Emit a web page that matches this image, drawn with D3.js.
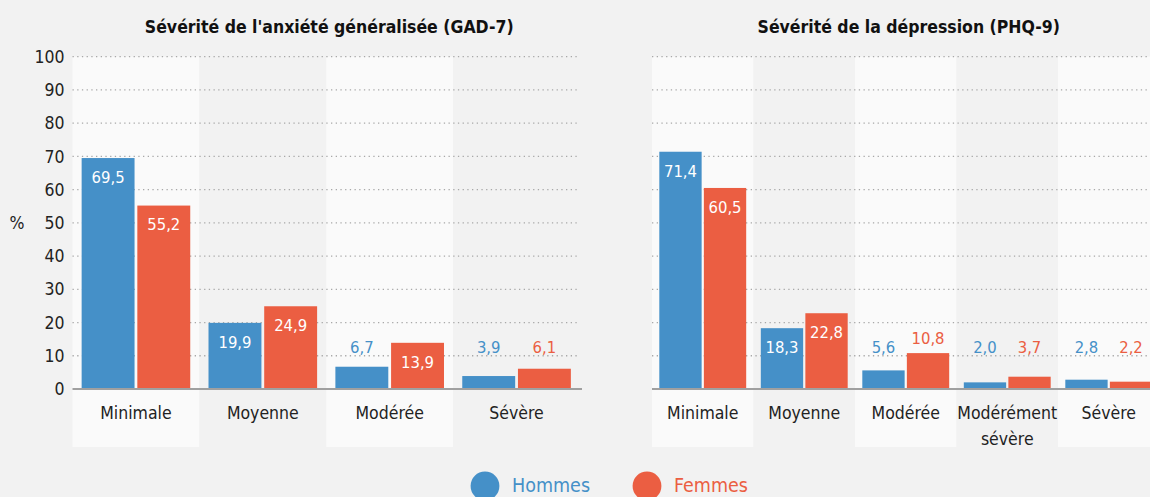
<!DOCTYPE html>
<html>
<head>
<meta charset="utf-8">
<script src="https://cdn.jsdelivr.net/npm/d3@7"></script>
<style>
  body { margin: 0; background: #f2f2f2; overflow: hidden; }
  svg text { font-family: "DejaVu Sans Condensed", "DejaVu Sans", sans-serif; }
</style>
</head>
<body>
<script>
// data
const categoriesGAD = ['Minimale', 'Moyenne', 'Modérée', 'Sévère'];
const hommesGAD = [69.5, 19.9, 6.7, 3.9];
const femmesGAD = [55.2, 24.9, 13.9, 6.1];

const categoriesPHQ = ['Minimale', 'Moyenne', 'Modérée', 'Modérément sévère', 'Sévère'];
const hommesPHQ = [71.4, 18.3, 5.6, 2.0, 2.8];
const femmesPHQ = [60.5, 22.8, 10.8, 3.7, 2.2];

const seriesNames = ['Hommes', 'Femmes'];
const yTicks = [0, 10, 20, 30, 40, 50, 60, 70, 80, 90, 100];

const titles = ["Sévérité de l'anxiété généralisée (GAD-7)", 'Sévérité de la dépression (PHQ-9)'];

const width = 1150, height = 497;
const color = d3.scaleOrdinal().domain(seriesNames).range(['#4590c8', '#eb5e42']);
const fmt = (v) => d3.format('.1f')(v).replace('.', ',');

const svg = d3.select('body')
	.append('svg')
	.attr('width', width)
	.attr('height', height);

const y = d3.scaleLinear().domain([0, 100]).range([389, 56.7]);

//draw one panel
const drawPanel = (cats, hommes, femmes, x0, x1, title, showAxis) => {
	const g = svg.append('g');
	const x = d3.scaleBand().domain(cats).range([x0, x1]).padding(0);
	const bw = x.bandwidth();
	const xs = d3.scaleBand().domain(seriesNames)
		.range([bw * 0.072, bw * 0.928]).paddingInner(0.05);

	//alternating background bands
	g.selectAll('rect.band')
		.data(cats)
		.enter()
		.append('rect')
		.attr('class', 'band')
		.attr('x', (d) => x(d))
		.attr('y', y(100))
		.attr('width', bw)
		.attr('height', 447 - y(100))
		.attr('fill', (d, i) => (i % 2 === 0 ? '#fafafa' : '#f2f2f2'));

	//dotted grid
	g.selectAll('line.grid')
		.data(yTicks.filter((t) => t > 0))
		.enter()
		.append('line')
		.attr('x1', x0)
		.attr('x2', x1)
		.attr('y1', (d) => y(d))
		.attr('y2', (d) => y(d))
		.attr('stroke', '#a8a8a8')
		.attr('stroke-width', 1.3)
		.attr('stroke-dasharray', '1.3,3.4');

	if (showAxis) {
		g.selectAll('text.ytick')
			.data(yTicks)
			.enter()
			.append('text')
			.attr('x', x0 - 8)
			.attr('y', (d) => y(d))
			.attr('dy', '0.35em')
			.attr('text-anchor', 'end')
			.attr('font-size', 17.5)
			.attr('fill', '#222')
			.text((d) => d);
		g.append('text')
			.attr('x', 17)
			.attr('y', y(50))
			.attr('dy', '0.35em')
			.attr('text-anchor', 'middle')
			.attr('font-size', 17.5)
			.attr('fill', '#222')
			.text('%');
	}

	//bars
	const rows = cats.map((c, i) => ({ cat: c, vals: [hommes[i], femmes[i]] }));
	const grp = g.selectAll('g.cat')
		.data(rows)
		.enter()
		.append('g')
		.attr('transform', (d) => `translate(${x(d.cat)},0)`);

	const cells = grp.selectAll('g.bar')
		.data((d) => d.vals.map((v, i) => ({ key: seriesNames[i], v })))
		.enter()
		.append('g');

	cells.append('rect')
		.attr('x', (d) => xs(d.key))
		.attr('y', (d) => y(d.v))
		.attr('width', xs.bandwidth())
		.attr('height', (d) => y(0) - y(d.v))
		.attr('fill', (d) => color(d.key));

	cells.append('text')
		.attr('x', (d) => xs(d.key) + xs.bandwidth() / 2)
		.attr('y', (d) => (d.v > 12 ? y(d.v) + 19 : Math.min(y(d.v), y(8.1)) - 15))
		.attr('dy', '0.35em')
		.attr('text-anchor', 'middle')
		.attr('font-size', 16.5)
		.attr('fill', (d) => (d.v > 12 ? '#fff' : color(d.key)))
		.text((d) => fmt(d.v));

	//baseline
	g.append('line')
		.attr('x1', x0)
		.attr('x2', x1 + 2)
		.attr('y1', y(0))
		.attr('y2', y(0))
		.attr('stroke', '#a0a0a0')
		.attr('stroke-width', 2);

	//category labels
	g.selectAll('text.cat')
		.data(cats)
		.enter()
		.append('text')
		.attr('x', (d) => x(d) + bw / 2)
		.attr('y', 413)
		.attr('text-anchor', 'middle')
		.attr('font-size', 17.5)
		.attr('fill', '#222')
		.each(function (d) {
			const words = d === 'Modérément sévère' ? ['Modérément', 'sévère'] : [d];
			d3.select(this).selectAll('tspan')
				.data(words)
				.enter()
				.append('tspan')
				.attr('x', x(d) + bw / 2)
				.attr('dy', (w, i) => (i === 0 ? '0.35em' : '1.45em'))
				.text((w) => w);
		});

	//title
	svg.append('text')
		.attr('x', (x0 + x1) / 2 + 3)
		.attr('y', 27)
		.attr('dy', '0.35em')
		.attr('text-anchor', 'middle')
		.attr('font-size', 17.5)
		.attr('font-weight', 'bold')
		.attr('fill', '#111')
		.text(title);
};

drawPanel(categoriesGAD, hommesGAD, femmesGAD, 72.5, 580, titles[0], true);
drawPanel(categoriesPHQ, hommesPHQ, femmesPHQ, 652, 1159.5, titles[1], false);

//legend
const legendX = [485, 647];
const leg = svg.selectAll('g.legend')
	.data(seriesNames)
	.enter()
	.append('g')
	.attr('transform', (d, i) => `translate(${legendX[i]},486)`);
leg.append('circle')
	.attr('r', 14.4)
	.attr('fill', (d) => color(d));
leg.append('text')
	.attr('x', 27)
	.attr('y', 0)
	.attr('dy', '0.33em')
	.attr('font-size', 19.5)
	.attr('fill', (d) => color(d))
	.text((d) => d);
</script>
</body>
</html>
